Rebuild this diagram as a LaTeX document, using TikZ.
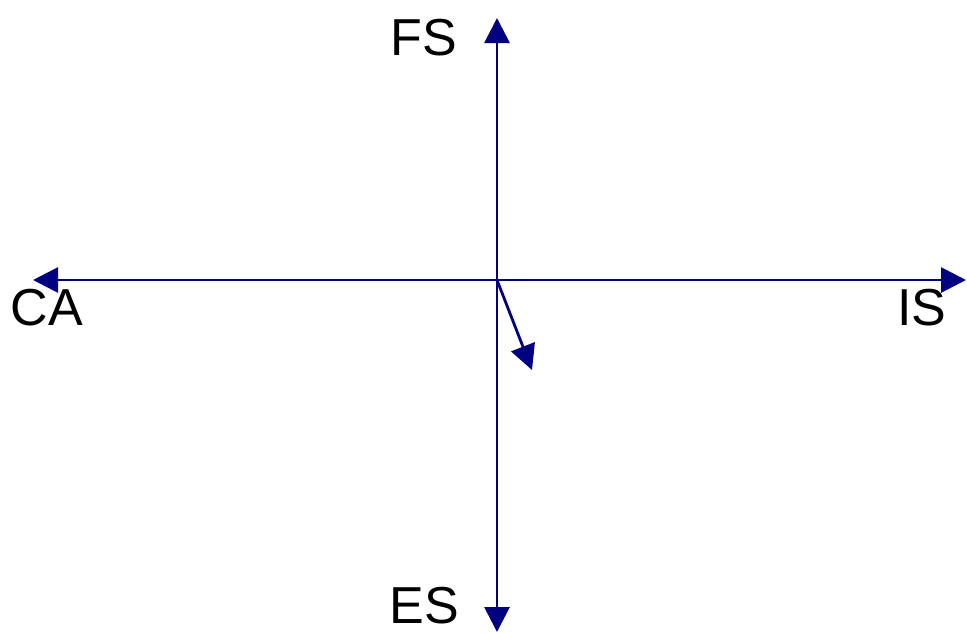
\documentclass[tikz,border=0pt]{standalone}
\usepackage{fontspec}
\setmainfont{Liberation Sans}
\usetikzlibrary{arrows.meta, positioning}
\definecolor{axisblue}{RGB}{0,0,128}

\begin{document}
\begin{tikzpicture}[x=0.5pt, y=-0.5pt,
    axis/.style={-{Triangle[length=12.5pt, width=12.5pt]}, line width=1.4pt, axisblue},
    lbl/.style={font=\fontsize{26}{30}\selectfont, inner sep=0pt}
  ]
    \useasboundingbox (0,0) rectangle (967,633);

    % Origin and axis ends
    \coordinate (O)  at (497,280);
    \coordinate (FSend) at (497,18);
    \coordinate (ESend) at (497,632);
    \coordinate (CAend) at (33,280);
    \coordinate (ISend) at (966,280);
    \coordinate (V) at (532,370);

    % Labels
    \node[lbl] (FS) at (424,38)  {FS};
    \node[lbl] (ES) at (424,606) {ES};
    \node[lbl] (CA) at (47,308)  {CA};
    \node[lbl] (IS) at (922,308) {IS};

    % Axes
    \foreach \e in {FSend, ESend, CAend, ISend}
      \draw[axis] (O) -- (\e);

    % Short vector
    \draw[axis] (O) -- (V);

\end{tikzpicture}
\end{document}
